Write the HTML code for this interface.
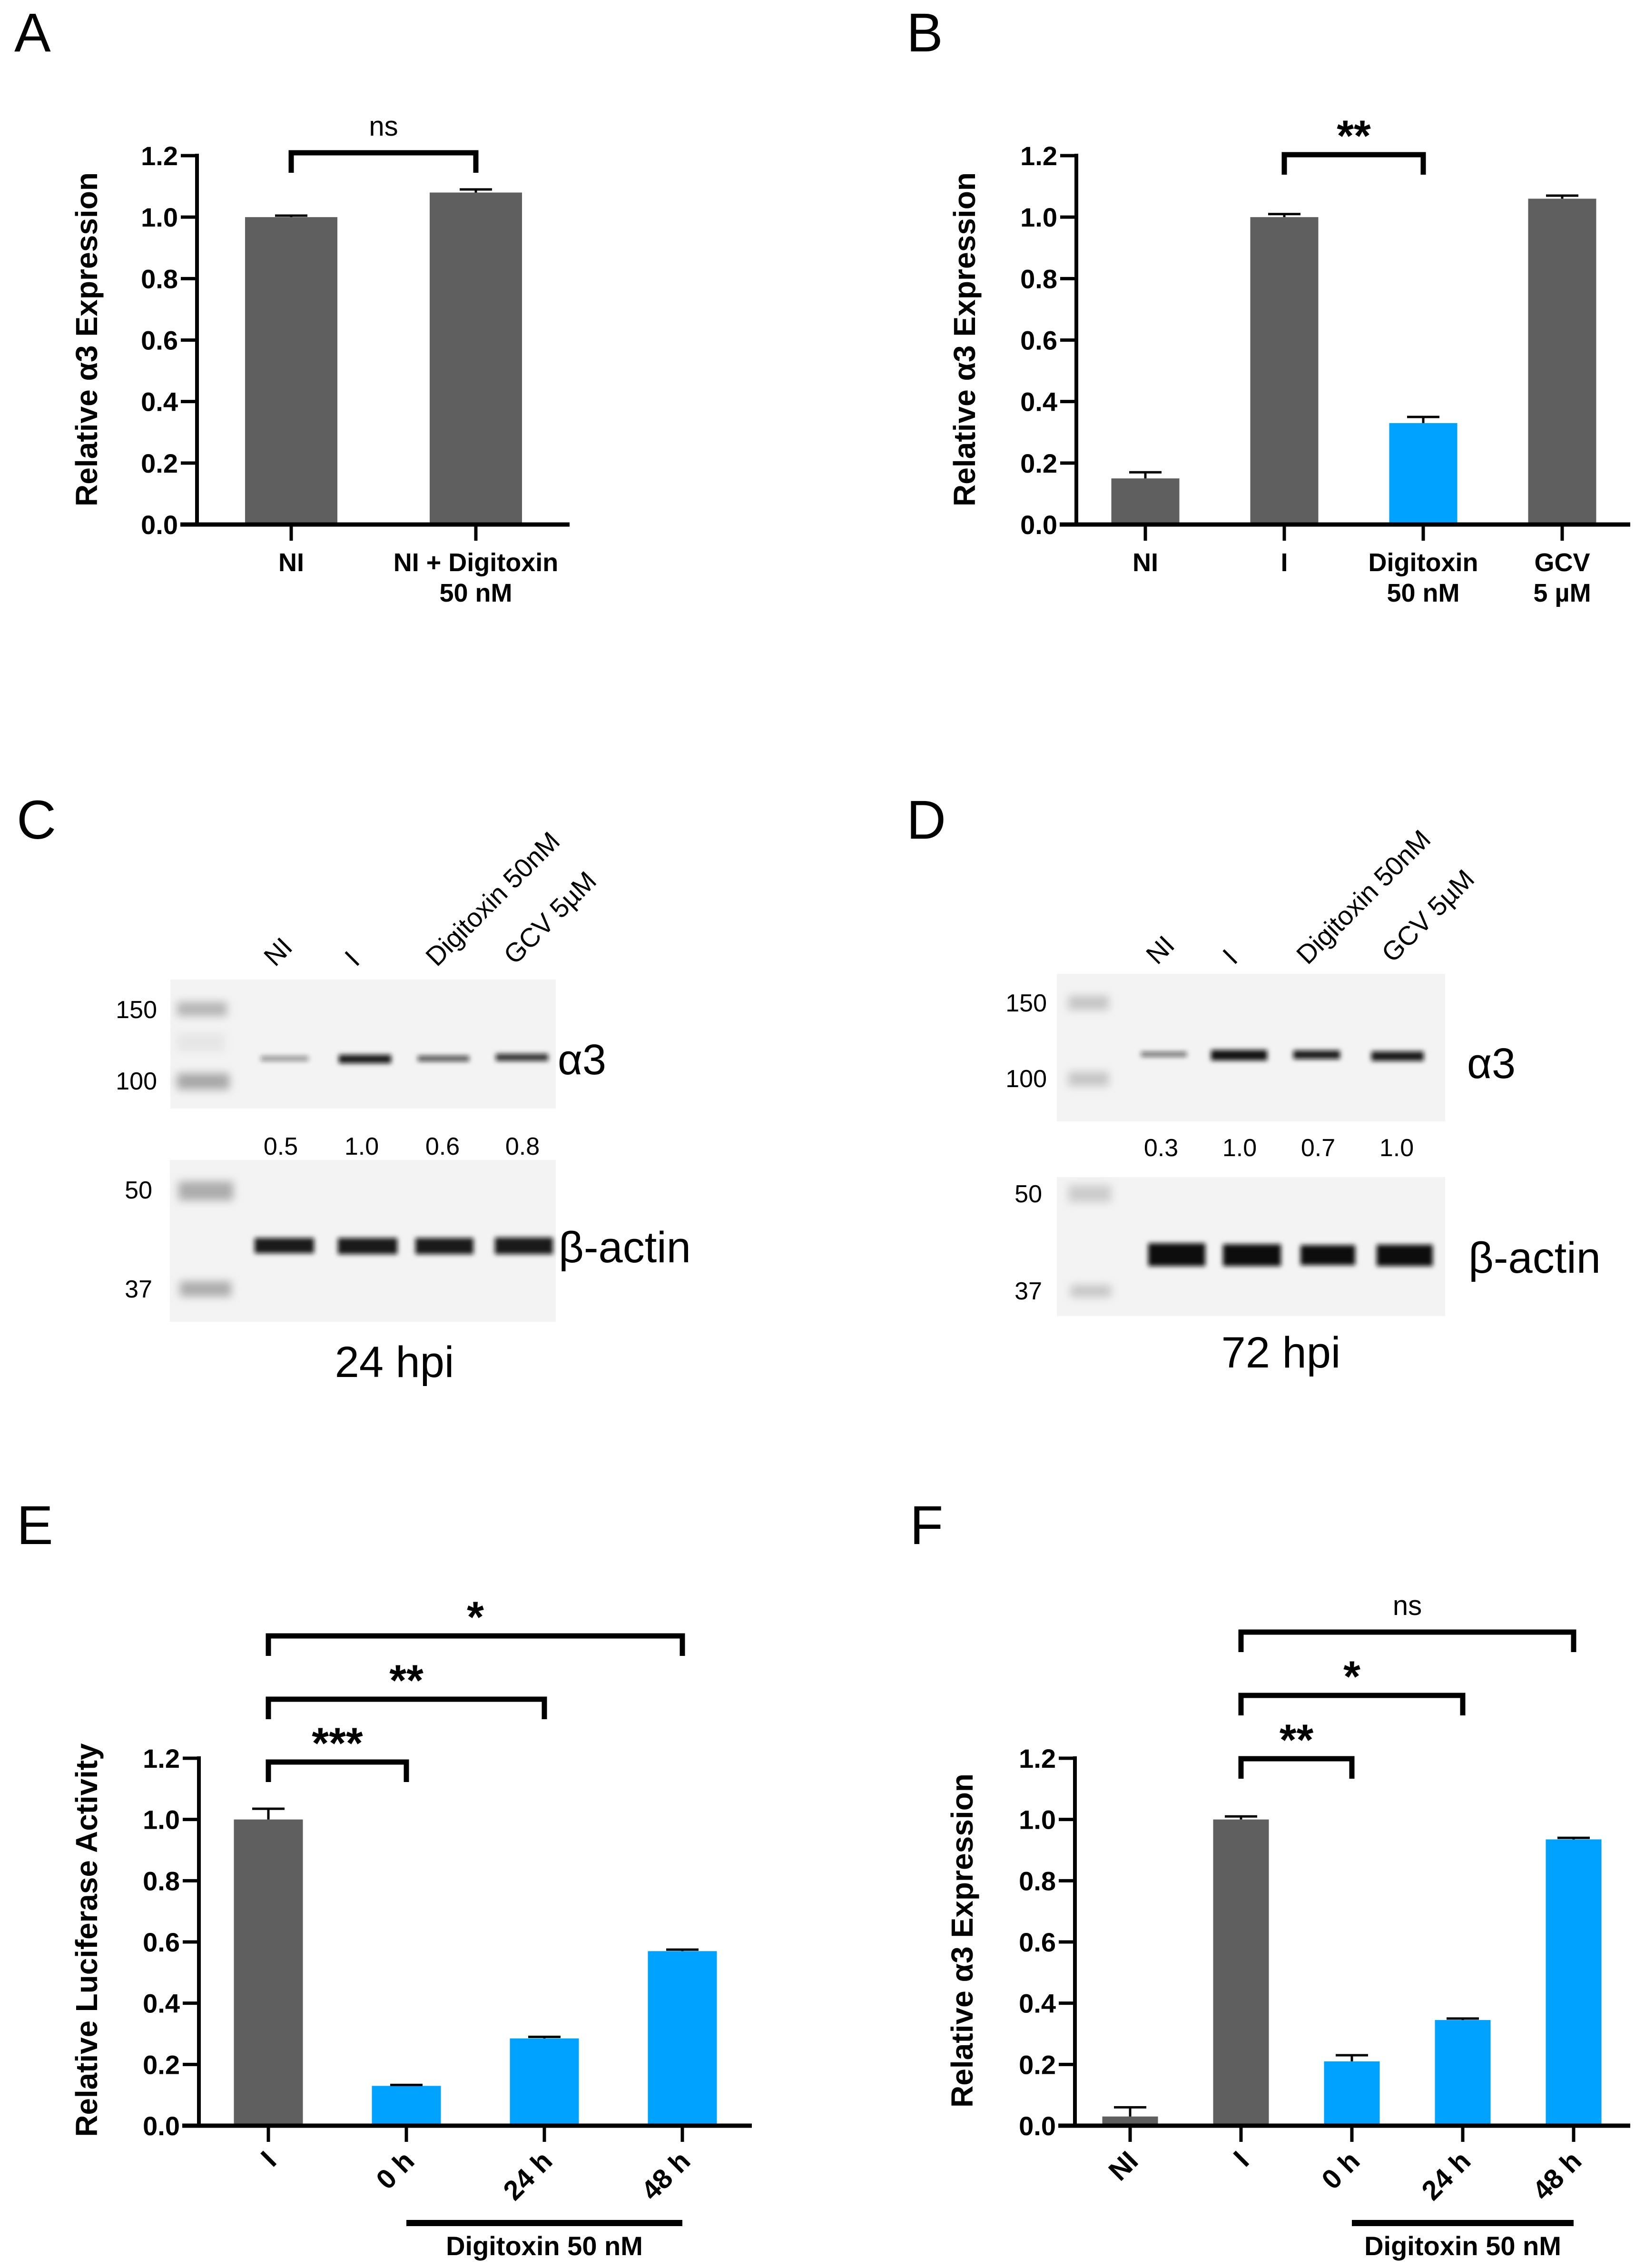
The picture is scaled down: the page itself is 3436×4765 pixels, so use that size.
<!DOCTYPE html>
<html><head><meta charset="utf-8">
<style>
html,body{margin:0;padding:0;background:#fff;}
svg{display:block;}
text{font-family:"Liberation Sans",Arial,sans-serif;}
</style></head>
<body>
<svg id="fig" xmlns="http://www.w3.org/2000/svg" width="3436" height="4765" viewBox="0 0 3436 4765">
<defs>
<filter id="blur4" x="-20%" y="-100%" width="140%" height="300%"><feGaussianBlur stdDeviation="5"/></filter>
<filter id="blur8" x="-30%" y="-100%" width="160%" height="300%"><feGaussianBlur stdDeviation="9"/></filter>
</defs>
<rect width="3436" height="4765" fill="#fff"/>
<g font-size="115" fill="#000">
<text x="30" y="108">A</text>
<text x="1905" y="108">B</text>
<text x="35" y="1762">C</text>
<text x="1905" y="1762">D</text>
<text x="35" y="3244">E</text>
<text x="1912" y="3244">F</text>
</g>

<!-- Blot C -->
<g>
<rect x="358" y="2058" width="810" height="271" fill="#f3f3f3"/>
<rect x="357" y="2437" width="811" height="340" fill="#f3f3f3"/>
<g filter="url(#blur8)" fill="#9a9a9a">
<rect x="372" y="2105" width="105" height="30" opacity="0.7"/>
<rect x="372" y="2255" width="110" height="34" opacity="0.85"/>
<rect x="372" y="2170" width="100" height="40" opacity="0.15"/>
<rect x="375" y="2482" width="115" height="40" opacity="0.8"/>
<rect x="378" y="2692" width="108" height="32" opacity="0.8"/>
</g>
<g filter="url(#blur4)" fill="#111">
<rect x="548" y="2219" width="100" height="10" opacity="0.45"/>
<rect x="712" y="2216" width="110" height="18" opacity="0.95"/>
<rect x="878" y="2218" width="108" height="12" opacity="0.7"/>
<rect x="1042" y="2214" width="110" height="15" opacity="0.85"/>
<rect x="535" y="2601" width="125" height="32" opacity="0.95"/>
<rect x="710" y="2601" width="125" height="34" opacity="0.95"/>
<rect x="873" y="2601" width="122" height="34" opacity="0.95"/>
<rect x="1040" y="2600" width="122" height="35" opacity="0.95"/>
</g>
<g font-size="52" text-anchor="end">
<text x="330" y="2139">150</text>
<text x="330" y="2289">100</text>
<text x="320" y="2518">50</text>
<text x="320" y="2726">37</text>
</g>
<g font-size="56">
<text transform="translate(578,2033) rotate(-45)">NI</text>
<text transform="translate(748,2033) rotate(-45)">I</text>
<text transform="translate(918,2033) rotate(-45)">Digitoxin 50nM</text>
<text transform="translate(1082,2029) rotate(-45)">GCV 5µM</text>
</g>
<g font-size="52" text-anchor="middle">
<text x="590" y="2426">0.5</text>
<text x="760" y="2426">1.0</text>
<text x="930" y="2426">0.6</text>
<text x="1098" y="2426">0.8</text>
</g>
<text x="1172" y="2257" font-size="90">α3</text>
<text x="1174" y="2652" font-size="92">β-actin</text>
<text x="829" y="2893" font-size="92" text-anchor="middle">24 hpi</text>
</g>

<!-- Blot D -->
<g>
<rect x="2221" y="2046" width="816" height="310" fill="#f3f3f3"/>
<rect x="2221" y="2473" width="816" height="292" fill="#f3f3f3"/>
<g filter="url(#blur8)" fill="#a5a5a5">
<rect x="2245" y="2092" width="85" height="30" opacity="0.6"/>
<rect x="2245" y="2252" width="85" height="30" opacity="0.6"/>
<rect x="2245" y="2490" width="90" height="36" opacity="0.5"/>
<rect x="2250" y="2700" width="85" height="25" opacity="0.6"/>
</g>
<g filter="url(#blur4)" fill="#111">
<rect x="2398" y="2210" width="96" height="10" opacity="0.6"/>
<rect x="2545" y="2206" width="118" height="22" opacity="0.98"/>
<rect x="2718" y="2207" width="98" height="18" opacity="0.95"/>
<rect x="2882" y="2209" width="110" height="20" opacity="0.95"/>
<rect x="2413" y="2612" width="120" height="48" opacity="1"/>
<rect x="2570" y="2614" width="122" height="46" opacity="1"/>
<rect x="2733" y="2616" width="115" height="42" opacity="1"/>
<rect x="2893" y="2615" width="118" height="45" opacity="1"/>
</g>
<g font-size="52" text-anchor="end">
<text x="2200" y="2125">150</text>
<text x="2200" y="2284">100</text>
<text x="2190" y="2526">50</text>
<text x="2190" y="2730">37</text>
</g>
<g font-size="56">
<text transform="translate(2432,2029) rotate(-45)">NI</text>
<text transform="translate(2593,2029) rotate(-45)">I</text>
<text transform="translate(2748,2029) rotate(-45)">Digitoxin 50nM</text>
<text transform="translate(2927,2025) rotate(-45)">GCV 5µM</text>
</g>
<g font-size="52" text-anchor="middle">
<text x="2440" y="2429">0.3</text>
<text x="2605" y="2429">1.0</text>
<text x="2770" y="2429">0.7</text>
<text x="2935" y="2429">1.0</text>
</g>
<text x="3083" y="2265" font-size="90">α3</text>
<text x="3086" y="2674" font-size="92">β-actin</text>
<text x="2692" y="2873" font-size="92" text-anchor="middle">72 hpi</text>
</g>

<g id="charts"></g>
</svg>

<script>
// Panel A data
const aCats = ["NI", "NI + Digitoxin|50 nM"];
const aVals = [1.0, 1.08];
const aErr = [0.005, 0.01];
const aBlue = [false, false];
// Panel B data
const bCats = ["NI", "I", "Digitoxin|50 nM", "GCV|5 µM"];
const bVals = [0.15, 1.0, 0.33, 1.06];
const bErr = [0.02, 0.01, 0.02, 0.01];
const bBlue = [false, false, true, false];
// Panel E data
const eCats = ["I", "0 h", "24 h", "48 h"];
const eVals = [1.0, 0.13, 0.285, 0.57];
const eErr = [0.035, 0.003, 0.005, 0.005];
const eBlue = [false, true, true, true];
// Panel F data
const fCats = ["NI", "I", "0 h", "24 h", "48 h"];
const fVals = [0.03, 1.0, 0.21, 0.345, 0.935];
const fErr = [0.03, 0.01, 0.02, 0.005, 0.005];
const fBlue = [false, false, true, true, true];
// shared y ticks
const yTicks = [0.0, 0.2, 0.4, 0.6, 0.8, 1.0, 1.2];
const yTickLabels = ["0.0", "0.2", "0.4", "0.6", "0.8", "1.0", "1.2"];
// significance brackets [from, to, label]
const aSig = [[0, 1, "ns"]];
const bSig = [[1, 2, "**"]];
const eSig = [[0, 1, "***"], [0, 2, "**"], [0, 3, "*"]];
const fSig = [[1, 2, "**"], [1, 3, "*"], [1, 4, "ns"]];

const NS = "http://www.w3.org/2000/svg";
const root = document.getElementById("charts");
function mk(tag, attrs, parent) {
  const el = document.createElementNS(NS, tag);
  for (const k in attrs) el.setAttribute(k, attrs[k]);
  (parent || root).appendChild(el);
  return el;
}

function chart(cfg) {
  const g = mk("g", {});
  
  
  const yScale = v => cfg.y0 - (v / 1.2) * (cfg.y0 - cfg.yTop);
  const xScale = i => cfg.ax + cfg.first + i * cfg.step;
  cfg.vals.forEach((v, i) => {
    const cx = xScale(i);
    const r = mk("rect", { x: cx - cfg.bw / 2, y: yScale(v), width: cfg.bw, height: cfg.y0 - yScale(v), fill: cfg.blue[i] ? "#00a2ff" : "#5f5f5f" }, g);
    
    
    const top = yScale(v + cfg.err[i]);
    const eb = mk("path", { d: `M${cx},${yScale(v)}V${top}M${cx - 34},${top}H${cx + 34}`, stroke: "#000", "stroke-width": 5, fill: "none" }, g);
    
    
  });
  const yAxis = mk("line", { x1: cfg.ax, y1: cfg.yTop - 4, x2: cfg.ax, y2: cfg.y0 + 4, stroke: "#000", "stroke-width": 8 }, g);
  
  
  const xAxis = mk("line", { x1: cfg.ax - 35, y1: cfg.y0, x2: cfg.xEnd, y2: cfg.y0, stroke: "#000", "stroke-width": 9 }, g);
  
  
  yTicks.forEach((t, i) => {
    const y = yScale(t);
    mk("line", { x1: cfg.ax - 34, y1: y, x2: cfg.ax, y2: y, stroke: "#000", "stroke-width": 7 }, g);
    const tl = mk("text", { x: cfg.ax - 40, y: y + 20, "font-size": 56, "font-weight": "bold", "text-anchor": "end" }, g);
    tl.textContent = yTickLabels[i];
    
    
  });
  cfg.cats.forEach((c, i) => {
    const cx = xScale(i);
    mk("line", { x1: cx, y1: cfg.y0, x2: cx, y2: cfg.y0 + 34, stroke: "#000", "stroke-width": 7 }, g);
    const lines = c.split('|');
    if (cfg.rotate) {
      const t = mk("text", { transform: `translate(${cx + 20},${cfg.y0 + 78}) rotate(-45)`, "font-size": 58, "font-weight": "bold", "text-anchor": "end" }, g);
      t.textContent = c;
      
      
    } else {
      lines.forEach((ln, k) => {
        const t = mk("text", { x: cx, y: cfg.y0 + 98 + k * 64, "font-size": 54, "font-weight": "bold", "text-anchor": "middle" }, g);
        t.textContent = ln;
        
        
      });
    }
  });
  const yt = mk("text", { transform: `translate(${cfg.titleX},${cfg.titleMid}) rotate(-90)`, "font-size": 64, "font-weight": "bold", "text-anchor": "middle", textLength: cfg.titleLen, lengthAdjust: "spacingAndGlyphs" }, g);
  yt.textContent = cfg.title;
  
  
  cfg.sig.forEach((s, k) => {
    const x1 = xScale(s[0]), x2 = xScale(s[1]);
    const by = cfg.sigY[k];
    const br = mk("path", { d: `M${x1},${by + 42}V${by}H${x2}V${by + 42}`, stroke: "#000", "stroke-width": 11, fill: "none" }, g);
    
    
    const isNs = s[2] === "ns";
    const lt = mk("text", { x: (x1 + x2) / 2, y: isNs ? by - 36 : by - 8, "font-size": isNs ? 58 : 92, "font-weight": isNs ? "normal" : "bold", "text-anchor": "middle" }, g);
    lt.textContent = s[2];
    
    
  });
  if (cfg.treat) {
    const x1 = xScale(cfg.treat[0]), x2 = xScale(cfg.treat[1]);
    const tb = mk("rect", { x: x1, y: 4664, width: x2 - x1, height: 13, fill: "#000" }, g);
    
    
    const tt = mk("text", { x: (x1 + x2) / 2, y: 4738, "font-size": 56, "font-weight": "bold", "text-anchor": "middle" }, g);
    tt.textContent = "Digitoxin 50 nM";
    
    
  }
}

chart({ name: "chart-a", cats: aCats, vals: aVals, err: aErr, blue: aBlue, sig: aSig, sigY: [321],
  ax: 414, y0: 1102, yTop: 327, xEnd: 1197, first: 198, step: 388, bw: 194,
  title: "Relative α3 Expression", titleX: 204, titleMid: 713, titleLen: 702 });
chart({ name: "chart-b", cats: bCats, vals: bVals, err: bErr, blue: bBlue, sig: bSig, sigY: [325],
  ax: 2262, y0: 1102, yTop: 327, xEnd: 3426, first: 145, step: 292, bw: 143,
  title: "Relative α3 Expression", titleX: 2049, titleMid: 713, titleLen: 702 });
chart({ name: "chart-e", cats: eCats, vals: eVals, err: eErr, blue: eBlue, sig: eSig, sigY: [3702, 3570, 3437],
  ax: 418, y0: 4466, yTop: 3694, xEnd: 1580, first: 146, step: 290, bw: 145, rotate: true, treat: [1, 3],
  title: "Relative Luciferase Activity", titleX: 204, titleMid: 4076, titleLen: 827 });
chart({ name: "chart-f", cats: fCats, vals: fVals, err: fErr, blue: fBlue, sig: fSig, sigY: [3695, 3562, 3429],
  ax: 2259, y0: 4466, yTop: 3694, xEnd: 3426, first: 116, step: 233, bw: 117, rotate: true, treat: [2, 4],
  title: "Relative α3 Expression", titleX: 2044, titleMid: 4077, titleLen: 702 });
</script>
</body></html>
